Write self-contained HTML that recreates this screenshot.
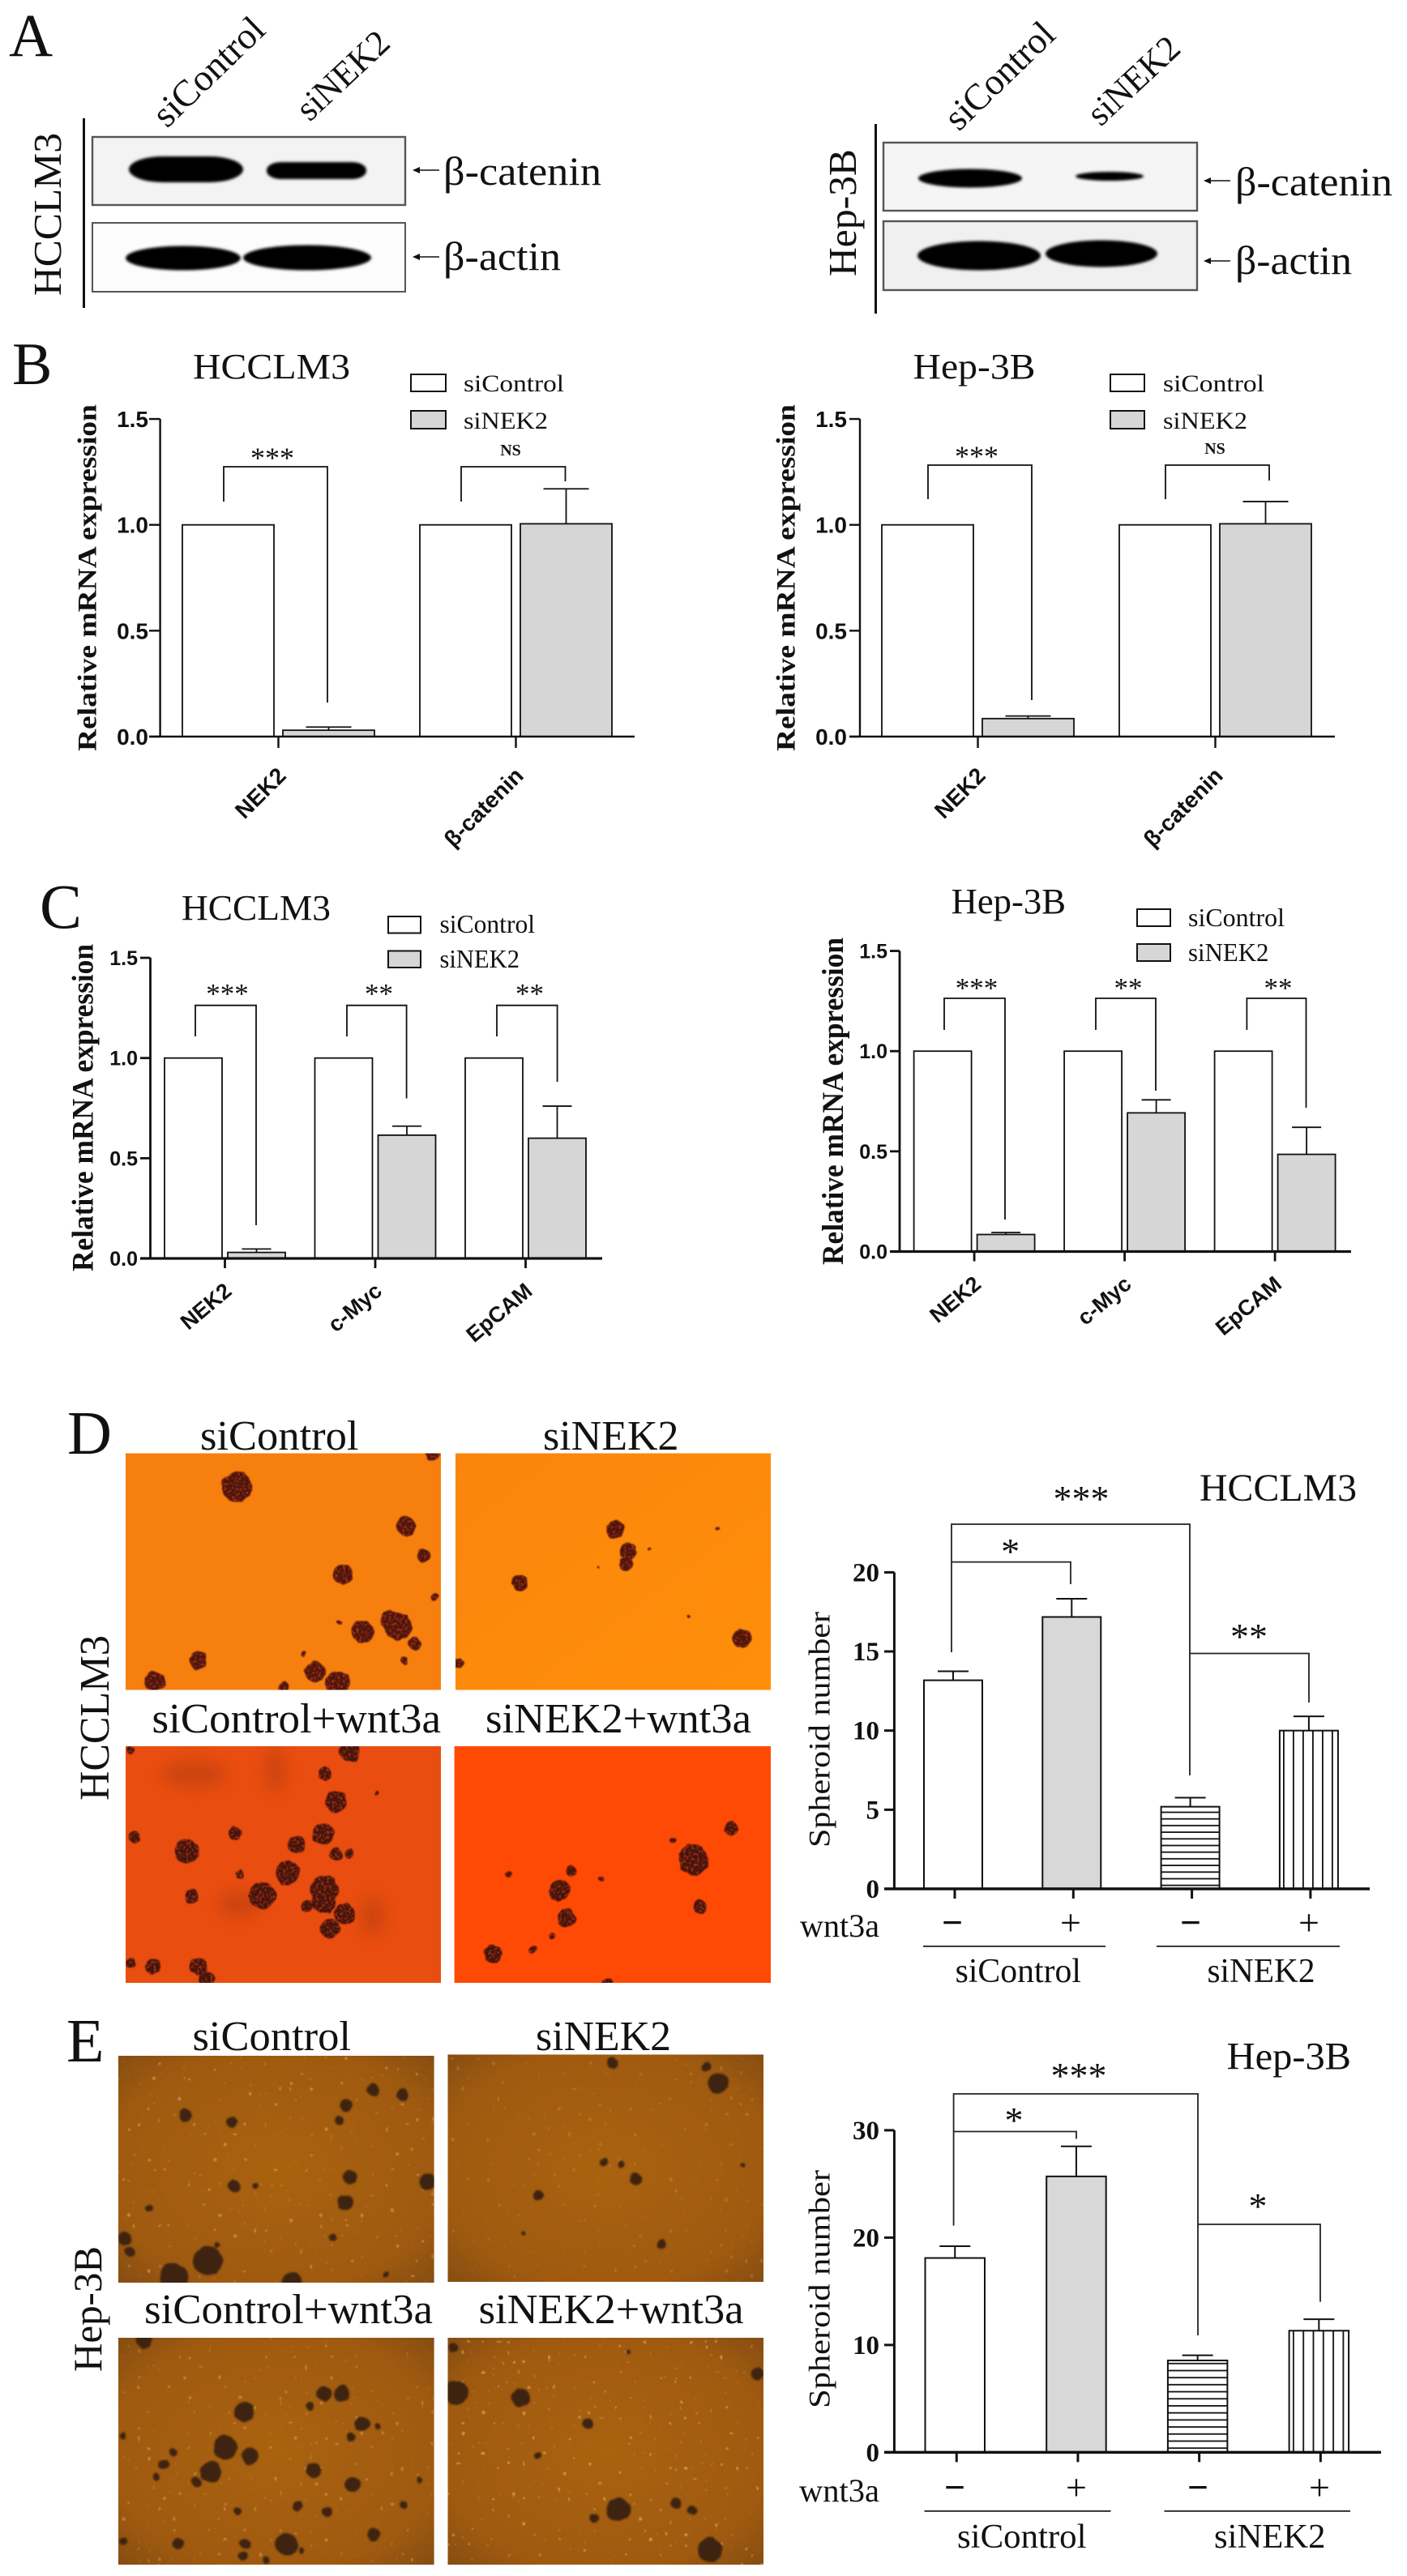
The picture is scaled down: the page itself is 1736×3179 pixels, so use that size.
<!DOCTYPE html>
<html lang="en">
<head>
<meta charset="utf-8">
<title>NEK2 knockdown figure</title>
<style>
html,body{margin:0;padding:0;background:#fff;}
svg{display:block;}
text{fill:#111;font-family:"Liberation Serif",serif;}
.sans{font-family:"Liberation Sans",sans-serif;font-weight:bold;}
.bold{font-weight:bold;}
</style>
</head>
<body>
<svg id="figure" xmlns="http://www.w3.org/2000/svg" width="1736" height="3179" viewBox="0 0 1736 3179">
<defs>
<filter id="soft" x="-10%" y="-40%" width="120%" height="180%"><feGaussianBlur stdDeviation="1.5"/></filter>
<filter id="blotch" x="-30%" y="-30%" width="160%" height="160%"><feGaussianBlur stdDeviation="9"/></filter>
<filter id="lumpy" x="-5%" y="-5%" width="110%" height="110%" color-interpolation-filters="sRGB">
<feTurbulence type="fractalNoise" baseFrequency="0.09" numOctaves="2" seed="4" result="warp"/>
<feDisplacementMap in="SourceGraphic" in2="warp" scale="6" xChannelSelector="R" yChannelSelector="G" result="shape"/>
<feGaussianBlur in="shape" stdDeviation="0.7" result="edge"/>
<feTurbulence type="fractalNoise" baseFrequency="0.3" numOctaves="2" seed="9" result="grain"/>
<feColorMatrix in="grain" type="matrix" values="0 0 0 0 0.72  0 0 0 0 0.22  0 0 0 0 0.08  2.6 0 0 0 -1.2" result="tint"/>
<feComposite in="tint" in2="edge" operator="in" result="mottle"/>
<feMerge><feMergeNode in="edge"/><feMergeNode in="mottle"/></feMerge>
</filter>
<filter id="lumpy-soft" x="-5%" y="-5%" width="110%" height="110%" color-interpolation-filters="sRGB">
<feTurbulence type="fractalNoise" baseFrequency="0.07" numOctaves="2" seed="7" result="warp"/>
<feDisplacementMap in="SourceGraphic" in2="warp" scale="5" xChannelSelector="R" yChannelSelector="G" result="shape"/>
<feGaussianBlur in="shape" stdDeviation="1"/>
</filter>
<filter id="specks" x="0" y="0" width="100%" height="100%" color-interpolation-filters="sRGB">
<feTurbulence type="fractalNoise" baseFrequency="0.16" numOctaves="1" seed="12"/>
<feColorMatrix type="matrix" values="0 0 0 0 0.88  0 0 0 0 0.66  0 0 0 0 0.36  16 0 0 0 -11.2"/>
<feGaussianBlur stdDeviation="0.5"/>
</filter>
<pattern id="hatch-h-d" patternUnits="userSpaceOnUse" width="10" height="8.2" y="2331"><rect width="10" height="8.2" fill="#fff"/><rect y="3" width="10" height="1.8" fill="#111"/></pattern>
<pattern id="hatch-h-e" patternUnits="userSpaceOnUse" width="10" height="8.7" y="3026"><rect width="10" height="8.7" fill="#fff"/><rect y="3" width="10" height="1.8" fill="#111"/></pattern>
<pattern id="hatch-v-d" patternUnits="userSpaceOnUse" width="12" height="10" x="1578"><rect width="12" height="10" fill="#fff"/><rect x="5" width="1.8" height="10" fill="#111"/></pattern>
<pattern id="hatch-v-e" patternUnits="userSpaceOnUse" width="12.3" height="10" x="1590"><rect width="12.3" height="10" fill="#fff"/><rect x="5" width="1.8" height="10" fill="#111"/></pattern>
<radialGradient id="amber1" cx="50%" cy="50%" r="75%"><stop offset="0" stop-color="#a9620f"/><stop offset="0.7" stop-color="#a05a10"/><stop offset="1" stop-color="#7f4a12"/></radialGradient>
<linearGradient id="orange2" x1="0" y1="0" x2="1" y2="1"><stop offset="0" stop-color="#fb850c"/><stop offset="1" stop-color="#ff8f0a"/></linearGradient>
<clipPath id="clip-d1"><rect x="155" y="1793.5" width="389" height="292"/></clipPath>
<clipPath id="clip-d2"><rect x="562" y="1793.5" width="389" height="292"/></clipPath>
<clipPath id="clip-d3"><rect x="155" y="2155" width="389" height="292"/></clipPath>
<clipPath id="clip-d4"><rect x="560.6" y="2155" width="390.4" height="292"/></clipPath>
<clipPath id="clip-e1"><rect x="146" y="2537" width="389.6" height="280"/></clipPath>
<clipPath id="clip-e2"><rect x="552.5" y="2535.5" width="389.5" height="280.5"/></clipPath>
<clipPath id="clip-e3"><rect x="146" y="2885" width="389.6" height="280"/></clipPath>
<clipPath id="clip-e4"><rect x="552.5" y="2885" width="389.5" height="280"/></clipPath>
</defs>

<!-- Panel letters -->
<text x="11" y="69" font-size="75">A</text>
<text x="15" y="474" font-size="74">B</text>
<text x="49" y="1145" font-size="78">C</text>
<text x="83" y="1794" font-size="76">D</text>
<text x="82" y="2544" font-size="76">E</text>

<!-- Panel A left -->
<g>
<rect x="102" y="146" width="3" height="234" fill="#111"/>
<text transform="translate(75,365) rotate(-90)" font-size="49" textLength="201" lengthAdjust="spacingAndGlyphs">HCCLM3</text>
<text transform="translate(206,159) rotate(-44)" font-size="46" textLength="172" lengthAdjust="spacingAndGlyphs">siControl</text>
<text transform="translate(382,151) rotate(-43)" font-size="44" textLength="139" lengthAdjust="spacingAndGlyphs">siNEK2</text>
<rect x="114" y="169" width="386" height="84" fill="#f3f3f3" stroke="#555" stroke-width="2.4"/>
<rect x="159" y="193" width="141" height="32" rx="42" ry="16" fill="#000" filter="url(#soft)"/>
<rect x="329" y="200" width="123" height="21" rx="18" ry="10" fill="#000" filter="url(#soft)"/>
<rect x="114" y="275" width="386" height="85" fill="#fcfcfc" stroke="#555" stroke-width="2"/>
<ellipse cx="226" cy="318.5" rx="71" ry="15" fill="#000" filter="url(#soft)"/>
<ellipse cx="379" cy="318" rx="79" ry="15.5" fill="#000" filter="url(#soft)"/>
<line x1="512" y1="210" x2="542" y2="210" stroke="#111" stroke-width="1.6"/>
<path d="M509 210l9-4v8z" fill="#111"/>
<text x="547" y="228" font-size="50" textLength="195" lengthAdjust="spacingAndGlyphs">β-catenin</text>
<line x1="512" y1="317" x2="542" y2="317" stroke="#111" stroke-width="1.6"/>
<path d="M509 317l9-4v8z" fill="#111"/>
<text x="547" y="333" font-size="50" textLength="145" lengthAdjust="spacingAndGlyphs">β-actin</text>
</g>

<!-- Panel A right -->
<g>
<rect x="1079" y="153" width="3" height="234" fill="#111"/>
<text transform="translate(1056,341) rotate(-90)" font-size="49" textLength="157" lengthAdjust="spacingAndGlyphs">Hep-3B</text>
<text transform="translate(1183,163) rotate(-44)" font-size="46" textLength="169" lengthAdjust="spacingAndGlyphs">siControl</text>
<text transform="translate(1358,157) rotate(-43)" font-size="44" textLength="138" lengthAdjust="spacingAndGlyphs">siNEK2</text>
<rect x="1090" y="176" width="387" height="84" fill="#f5f5f5" stroke="#555" stroke-width="2.4"/>
<ellipse cx="1197" cy="220" rx="64" ry="11.5" fill="#000" filter="url(#soft)"/>
<ellipse cx="1369" cy="217.5" rx="42" ry="5.5" fill="#000" filter="url(#soft)"/>
<rect x="1090" y="273" width="387" height="85" fill="#f0f0f0" stroke="#555" stroke-width="2.4"/>
<ellipse cx="1208" cy="315.5" rx="76" ry="18" fill="#000" filter="url(#soft)"/>
<ellipse cx="1359" cy="313" rx="69" ry="16.5" fill="#000" filter="url(#soft)"/>
<line x1="1488" y1="223" x2="1518" y2="223" stroke="#111" stroke-width="1.6"/>
<path d="M1485 223l9-4v8z" fill="#111"/>
<text x="1524" y="241" font-size="50" textLength="194" lengthAdjust="spacingAndGlyphs">β-catenin</text>
<line x1="1488" y1="322" x2="1518" y2="322" stroke="#111" stroke-width="1.6"/>
<path d="M1485 322l9-4v8z" fill="#111"/>
<text x="1524" y="338" font-size="50" textLength="144" lengthAdjust="spacingAndGlyphs">β-actin</text>
</g>

<!-- Panel B left -->
<g id="chart-b1">
<text x="238" y="467" font-size="44" textLength="194" lengthAdjust="spacingAndGlyphs">HCCLM3</text>
<rect x="507" y="462" width="43" height="21" fill="#fff" stroke="#111" stroke-width="2"/>
<text x="572" y="483" font-size="30" textLength="124" lengthAdjust="spacingAndGlyphs">siControl</text>
<rect x="507" y="507" width="43" height="22" fill="#d6d6d6" stroke="#111" stroke-width="2"/>
<text x="572" y="529" font-size="30" textLength="104" lengthAdjust="spacingAndGlyphs">siNEK2</text>
<text class="bold" transform="translate(118.5,927) rotate(-90)" font-size="33" textLength="428" lengthAdjust="spacingAndGlyphs">Relative mRNA expression</text>
<path d="M276 619V576H404V867" fill="none" stroke="#111" stroke-width="1.8"/>
<text x="336" y="577" font-size="36" text-anchor="middle">***</text>
<path d="M569 619V576H697.5V594" fill="none" stroke="#111" stroke-width="1.8"/>
<text class="bold" x="630" y="562" font-size="20" text-anchor="middle">NS</text>
</g>

<!-- Panel B right -->
<g id="chart-b2">
<text x="1126.5" y="467" font-size="44" textLength="151" lengthAdjust="spacingAndGlyphs">Hep-3B</text>
<rect x="1370" y="462" width="42" height="21" fill="#fff" stroke="#111" stroke-width="2"/>
<text x="1435" y="483" font-size="30" textLength="125" lengthAdjust="spacingAndGlyphs">siControl</text>
<rect x="1370" y="507" width="42" height="22" fill="#d6d6d6" stroke="#111" stroke-width="2"/>
<text x="1435" y="529" font-size="30" textLength="104" lengthAdjust="spacingAndGlyphs">siNEK2</text>
<text class="bold" transform="translate(980.5,927) rotate(-90)" font-size="33" textLength="428" lengthAdjust="spacingAndGlyphs">Relative mRNA expression</text>
<path d="M1145 616V574H1273V864" fill="none" stroke="#111" stroke-width="1.8"/>
<text x="1205" y="575" font-size="36" text-anchor="middle">***</text>
<path d="M1438 616V574H1566V593" fill="none" stroke="#111" stroke-width="1.8"/>
<text class="bold" x="1499" y="560" font-size="20" text-anchor="middle">NS</text>
</g>

<!-- Panel C left -->
<g id="chart-c1">
<text x="224" y="1135" font-size="44" textLength="184" lengthAdjust="spacingAndGlyphs">HCCLM3</text>
<rect x="479" y="1131" width="40" height="20.5" fill="#fff" stroke="#111" stroke-width="2"/>
<text x="542.5" y="1151" font-size="32" textLength="117.5" lengthAdjust="spacingAndGlyphs">siControl</text>
<rect x="479" y="1173.5" width="40" height="20.5" fill="#d6d6d6" stroke="#111" stroke-width="2"/>
<text x="542.5" y="1194" font-size="32" textLength="98.5" lengthAdjust="spacingAndGlyphs">siNEK2</text>
<text class="bold" transform="translate(114.5,1569) rotate(-90)" font-size="37" textLength="404" lengthAdjust="spacingAndGlyphs">Relative mRNA expression</text>
<path d="M241 1279V1240.7H316V1512" fill="none" stroke="#111" stroke-width="1.8"/>
<text x="280.5" y="1238" font-size="35" text-anchor="middle">***</text>
<path d="M428 1279V1240.7H501.6V1355.5" fill="none" stroke="#111" stroke-width="1.8"/>
<text x="467.5" y="1238" font-size="35" text-anchor="middle">**</text>
<path d="M613 1279V1240.7H687.6V1335" fill="none" stroke="#111" stroke-width="1.8"/>
<text x="653.5" y="1238" font-size="35" text-anchor="middle">**</text>
</g>

<!-- Panel C right -->
<g id="chart-c2">
<text x="1173.6" y="1127" font-size="44" textLength="141.4" lengthAdjust="spacingAndGlyphs">Hep-3B</text>
<rect x="1403" y="1122" width="41" height="21" fill="#fff" stroke="#111" stroke-width="2"/>
<text x="1466" y="1143" font-size="32" textLength="119" lengthAdjust="spacingAndGlyphs">siControl</text>
<rect x="1403" y="1165" width="41" height="21" fill="#d6d6d6" stroke="#111" stroke-width="2"/>
<text x="1466" y="1186" font-size="32" textLength="99.5" lengthAdjust="spacingAndGlyphs">siNEK2</text>
<text class="bold" transform="translate(1040,1561) rotate(-90)" font-size="37" textLength="404" lengthAdjust="spacingAndGlyphs">Relative mRNA expression</text>
<path d="M1165 1271V1232H1240V1505" fill="none" stroke="#111" stroke-width="1.8"/>
<text x="1205" y="1231" font-size="35" text-anchor="middle">***</text>
<path d="M1352 1271V1232H1426V1346" fill="none" stroke="#111" stroke-width="1.8"/>
<text x="1392" y="1231" font-size="35" text-anchor="middle">**</text>
<path d="M1538.4 1271V1232H1611.5V1367" fill="none" stroke="#111" stroke-width="1.8"/>
<text x="1577" y="1231" font-size="35" text-anchor="middle">**</text>
</g>

<!-- Panel D micrographs -->
<g>
<text transform="translate(134,2222) rotate(-90)" font-size="52" textLength="204" lengthAdjust="spacingAndGlyphs">HCCLM3</text>
<text x="247" y="1789" font-size="52" textLength="195.5" lengthAdjust="spacingAndGlyphs">siControl</text>
<text x="670" y="1789" font-size="52" textLength="167.5" lengthAdjust="spacingAndGlyphs">siNEK2</text>
<text x="187.5" y="2138" font-size="52" textLength="356.5" lengthAdjust="spacingAndGlyphs">siControl+wnt3a</text>
<text x="599" y="2138" font-size="52" textLength="328" lengthAdjust="spacingAndGlyphs">siNEK2+wnt3a</text>
<rect x="155" y="1793.5" width="389" height="292" fill="#f67f0e"/>
<rect x="562" y="1793.5" width="389" height="292" fill="url(#orange2)"/>
<rect x="155" y="2155" width="389" height="292" fill="#e94d10"/>
<g clip-path="url(#clip-d3)" fill="#7a2a10" opacity="0.26" filter="url(#blotch)">
<ellipse cx="240" cy="2190" rx="40" ry="16"/>
<ellipse cx="340" cy="2185" rx="12" ry="28"/>
<ellipse cx="295" cy="2350" rx="26" ry="16"/>
<ellipse cx="460" cy="2365" rx="14" ry="24"/>
</g>
<rect x="560.6" y="2155" width="390.4" height="292" fill="#ff4a06"/>
<g id="spheroids-d1" clip-path="url(#clip-d1)"><g id="spheroids-d1-inner" fill="#4d150c" filter="url(#lumpy)"></g></g>
<g id="spheroids-d2" clip-path="url(#clip-d2)"><g id="spheroids-d2-inner" fill="#4d150c" filter="url(#lumpy)"></g></g>
<g id="spheroids-d3" clip-path="url(#clip-d3)"><g id="spheroids-d3-inner" fill="#44140c" filter="url(#lumpy)"></g></g>
<g id="spheroids-d4" clip-path="url(#clip-d4)"><g id="spheroids-d4-inner" fill="#44140c" filter="url(#lumpy)"></g></g>
</g>

<!-- Panel D chart -->
<g id="chart-d">
<text x="1480" y="1852" font-size="48" textLength="194" lengthAdjust="spacingAndGlyphs">HCCLM3</text>
<text transform="translate(1023.5,2280) rotate(-90)" font-size="37" textLength="291" lengthAdjust="spacingAndGlyphs">Spheroid number</text>
<path d="M1174 2039V1881H1468V2191" fill="none" stroke="#222" stroke-width="1.8"/>
<path d="M1174 1927.6H1321V1955" fill="none" stroke="#222" stroke-width="1.8"/>
<path d="M1468 2040.5H1615V2101" fill="none" stroke="#222" stroke-width="1.8"/>
<text x="1334" y="1865" font-size="46" text-anchor="middle">***</text>
<text x="1246.6" y="1930" font-size="46" text-anchor="middle">*</text>
<text x="1541" y="2035" font-size="46" text-anchor="middle">**</text>
<text x="987" y="2390" font-size="40" textLength="98" lengthAdjust="spacingAndGlyphs">wnt3a</text>
<text class="bold" x="1175" y="2388" font-size="46" text-anchor="middle">−</text>
<text x="1321" y="2388" font-size="46" text-anchor="middle">+</text>
<text class="bold" x="1469" y="2388" font-size="46" text-anchor="middle">−</text>
<text x="1615" y="2388" font-size="46" text-anchor="middle">+</text>
<rect x="1139" y="2401" width="225" height="1.8" fill="#222"/>
<rect x="1427" y="2401" width="226" height="1.8" fill="#222"/>
<text x="1178.6" y="2446" font-size="42" textLength="155.4" lengthAdjust="spacingAndGlyphs">siControl</text>
<text x="1489.5" y="2446" font-size="42" textLength="133" lengthAdjust="spacingAndGlyphs">siNEK2</text>
</g>

<!-- Panel E micrographs -->
<g>
<text transform="translate(125,2927) rotate(-90)" font-size="50" textLength="155" lengthAdjust="spacingAndGlyphs">Hep-3B</text>
<text x="237.5" y="2530" font-size="52" textLength="195.5" lengthAdjust="spacingAndGlyphs">siControl</text>
<text x="661" y="2530" font-size="52" textLength="167" lengthAdjust="spacingAndGlyphs">siNEK2</text>
<text x="178" y="2867" font-size="52" textLength="356" lengthAdjust="spacingAndGlyphs">siControl+wnt3a</text>
<text x="590.6" y="2867" font-size="52" textLength="327" lengthAdjust="spacingAndGlyphs">siNEK2+wnt3a</text>
<rect x="146" y="2537" width="389.6" height="280" fill="url(#amber1)"/>
<rect x="552.5" y="2535.5" width="389.5" height="280.5" fill="url(#amber1)"/>
<rect x="146" y="2885" width="389.6" height="280" fill="url(#amber1)"/>
<rect x="552.5" y="2885" width="389.5" height="280" fill="url(#amber1)"/>
<rect x="146" y="2537" width="389.6" height="280" fill="#000" filter="url(#specks)" opacity="0.55"/>
<rect x="552.5" y="2535.5" width="389.5" height="280.5" fill="#000" filter="url(#specks)" opacity="0.3"/>
<rect x="146" y="2885" width="389.6" height="280" fill="#000" filter="url(#specks)" opacity="0.5"/>
<rect x="552.5" y="2885" width="389.5" height="280" fill="#000" filter="url(#specks)" opacity="0.7"/>
<g id="spheroids-e1" clip-path="url(#clip-e1)"><g id="spheroids-e1-inner" fill="#3e2410" filter="url(#lumpy-soft)"></g></g>
<g id="spheroids-e2" clip-path="url(#clip-e2)"><g id="spheroids-e2-inner" fill="#3e2410" filter="url(#lumpy-soft)"></g></g>
<g id="spheroids-e3" clip-path="url(#clip-e3)"><g id="spheroids-e3-inner" fill="#3e2410" filter="url(#lumpy-soft)"></g></g>
<g id="spheroids-e4" clip-path="url(#clip-e4)"><g id="spheroids-e4-inner" fill="#3e2410" filter="url(#lumpy-soft)"></g></g>
</g>

<!-- Panel E chart -->
<g id="chart-e">
<text x="1513.6" y="2553.6" font-size="48" textLength="153.4" lengthAdjust="spacingAndGlyphs">Hep-3B</text>
<text transform="translate(1023.5,2972) rotate(-90)" font-size="37" textLength="294" lengthAdjust="spacingAndGlyphs">Spheroid number</text>
<path d="M1176.6 2746.6V2584H1478V2882" fill="none" stroke="#222" stroke-width="1.8"/>
<path d="M1176.6 2630.5H1328V2639.5" fill="none" stroke="#222" stroke-width="1.8"/>
<path d="M1478 2745H1629V2840.6" fill="none" stroke="#222" stroke-width="1.8"/>
<text x="1331" y="2577" font-size="46" text-anchor="middle">***</text>
<text x="1251" y="2632" font-size="46" text-anchor="middle">*</text>
<text x="1552" y="2738" font-size="46" text-anchor="middle">*</text>
<text x="986" y="3087" font-size="40" textLength="99" lengthAdjust="spacingAndGlyphs">wnt3a</text>
<text class="bold" x="1178" y="3085" font-size="46" text-anchor="middle">−</text>
<text x="1328" y="3085" font-size="46" text-anchor="middle">+</text>
<text class="bold" x="1478" y="3085" font-size="46" text-anchor="middle">−</text>
<text x="1628" y="3085" font-size="46" text-anchor="middle">+</text>
<rect x="1140.5" y="3098" width="230" height="1.8" fill="#222"/>
<rect x="1436.5" y="3098" width="229.5" height="1.8" fill="#222"/>
<text x="1181" y="3144" font-size="42" textLength="159.5" lengthAdjust="spacingAndGlyphs">siControl</text>
<text x="1498" y="3144" font-size="42" textLength="137.5" lengthAdjust="spacingAndGlyphs">siNEK2</text>
</g>
</svg>

<script>
// ---- chart data ----
const b1Categories = ['NEK2', 'β-catenin'];
const b1Control = [1, 1];
const b1Knockdown = [0.03, 1.005];
const b1KnockdownUpper = [0.045, 1.17];

const b2Categories = ['NEK2', 'β-catenin'];
const b2Control = [1, 1];
const b2Knockdown = [0.085, 1.005];
const b2KnockdownUpper = [0.097, 1.11];

const c1Categories = ['NEK2', 'c-Myc', 'EpCAM'];
const c1Control = [1, 1, 1];
const c1Knockdown = [0.03, 0.615, 0.6];
const c1KnockdownUpper = [0.047, 0.66, 0.76];

const c2Categories = ['NEK2', 'c-Myc', 'EpCAM'];
const c2Control = [1, 1, 1];
const c2Knockdown = [0.085, 0.692, 0.485];
const c2KnockdownUpper = [0.095, 0.757, 0.62];

const mrnaTicks = [0, 0.5, 1, 1.5];
const mrnaTickLabels = ['0.0', '0.5', '1.0', '1.5'];

const dValues = [13.18, 17.18, 5.19, 10];
const dUpper = [13.75, 18.33, 5.76, 10.9];
const dTicks = [0, 5, 10, 15, 20];
const dTickLabels = ['0', '5', '10', '15', '20'];

const eValues = [18.1, 25.7, 8.56, 11.33];
const eUpper = [19.2, 28.5, 9.04, 12.4];
const eTicks = [0, 10, 20, 30];
const eTickLabels = ['0', '10', '20', '30'];

// ---- spheroid micrograph specks, in reference-crop units [x, y, r] ----
const spheroidsD1 = [[468,272,30],[801,369,19],[836,441,13],[677,488,20],[858,546,7],[716,631,22],[786,617,27],[770,600,18],[818,660,13],[392,702,17],[622,730,20],[305,755,20],[666,760,25],[561,768,10],[598,685,5],[799,703,8],[855,190,14],[669,608,4]];
const spheroidsD2 = [[1214,378,18],[1240,432,17],[1236,462,14],[1027,510,16],[1465,647,19],[905,708,9],[1416,375,4],[1360,593,3],[1282,425,3],[1181,470,2]];
const spheroidsD3 = [[690,928,20],[641,983,13],[664,1052,21],[744,1031,5],[265,1141,11],[463,1130,13],[638,1132,21],[585,1159,17],[369,1175,24],[663,1183,13],[689,1181,8],[567,1229,23],[473,1233,8],[517,1285,27],[640,1272,28],[640,1300,24],[378,1288,14],[607,1312,11],[681,1332,20],[651,1367,19],[258,1452,9],[302,1460,15],[392,1463,18],[408,1493,15],[258,925,8]];
const spheroidsD4 = [[1128,1224,11],[1004,1231,6],[1105,1272,21],[1119,1340,18],[1369,1196,30],[1444,1120,13],[1382,1312,13],[973,1431,18],[1090,1386,6],[1052,1420,8],[1187,1243,6],[1200,1500,10],[1330,1150,6]];
const spheroidsE1 = [[737,240,12],[794,253,12],[683,283,12],[670,325,9],[366,310,12],[458,330,10],[691,480,14],[462,503,12],[504,503,6],[681,549,15],[845,492,16],[294,564,7],[657,645,8],[246,648,13],[256,682,10],[410,708,29],[343,752,28],[576,768,20],[428,665,6],[762,747,6]];
const spheroidsE2 = [[1209,168,11],[1394,178,9],[1418,224,20],[1192,440,8],[1226,443,7],[1254,485,12],[1063,530,10],[1306,663,9],[1034,633,4],[1466,448,5]];
const spheroidsE3 = [[285,925,16],[640,1070,15],[675,1070,16],[482,1120,20],[612,1106,8],[715,1153,15],[745,1160,6],[693,1189,9],[445,1218,24],[494,1241,17],[342,1231,8],[323,1264,10],[416,1284,21],[308,1296,7],[388,1312,10],[619,1281,15],[696,1320,15],[587,1376,10],[645,1393,10],[469,1391,8],[797,1376,8],[738,1455,13],[566,1482,22],[484,1480,10],[479,1515,10],[351,1481,11],[526,1525,7],[242,1475,8],[595,1498,6],[243,1186,6],[828,1305,6]];
const spheroidsE4 = [[900,1067,24],[1027,1082,18],[1495,1016,12],[1160,1153,11],[1062,1240,7],[1221,1388,23],[1335,1370,11],[1367,1390,9],[1173,1410,9],[1402,1498,25],[1241,958,5],[895,945,9]];

const SVGNS = 'http://www.w3.org/2000/svg';
function make(parent, tag, attrs, text) {
  const el = document.createElementNS(SVGNS, tag);
  for (const k in attrs) el.setAttribute(k, attrs[k]);
  if (text !== undefined) el.textContent = text;
  parent.appendChild(el);
  return el;
}

function drawYAxis(g, yOf, axisX, tickLeft, xRight, y0, ticks, labels, o) {
  const spine = make(g, 'line', {x1: axisX, x2: axisX, y1: yOf(ticks[ticks.length - 1]), y2: y0, stroke: '#111', 'stroke-width': o.axisW});
  
  
  const base = make(g, 'line', {x1: tickLeft, x2: xRight, y1: y0, y2: y0, stroke: '#111', 'stroke-width': o.baseW});
  
  
  ticks.forEach((t, i) => {
    const tk = make(g, 'line', {x1: tickLeft, x2: axisX, y1: yOf(t), y2: yOf(t), stroke: '#111', 'stroke-width': o.axisW});
    
    
    const lb = make(g, 'text', {x: o.labelX, y: yOf(t) + o.labelDy, 'font-size': o.labelSize, 'text-anchor': 'end', class: o.labelClass}, labels[i]);
    
    
  });
}

function drawBar(g, x, w, top, y0, fill, sw) {
  const r = make(g, 'rect', {x: x, y: top, width: w, height: y0 - top, fill: fill, stroke: '#111', 'stroke-width': sw});
  
  
}

function drawError(g, cx, fromY, toY, half, sw) {
  const stem = make(g, 'line', {x1: cx, x2: cx, y1: fromY, y2: toY, stroke: '#111', 'stroke-width': sw});
  
  
  const cap = make(g, 'line', {x1: cx - half, x2: cx + half, y1: toY, y2: toY, stroke: '#111', 'stroke-width': sw});
  
  
}

function groupedChart(id, c, categories, control, knockdown, upper) {
  const g = document.getElementById(id);
  const yOf = v => c.y0 - v * c.unit;
  categories.forEach((name, i) => {
    const x1 = c.x0 + i * c.step;
    const x2 = x1 + c.sub;
    drawBar(g, x1, c.w, yOf(control[i]), c.y0, '#fff', c.barW);
    drawError(g, x2 + c.w / 2, yOf(knockdown[i]), yOf(upper[i]), c.cap, c.barW);
    drawBar(g, x2, c.w, yOf(knockdown[i]), c.y0, '#d6d6d6', c.barW);
    const tx = x1 + (c.w + c.sub) / 2;
    const tk = make(g, 'line', {x1: tx, x2: tx, y1: c.y0, y2: c.y0 + c.tickLen, stroke: '#111', 'stroke-width': c.axisW});
    
    
    const lb = make(g, 'text', {transform: 'translate(' + (tx + c.ldx) + ',' + (c.y0 + c.ldy) + ') rotate(' + c.angle + ')', 'font-size': c.xSize, 'text-anchor': 'end', class: 'sans'}, name);
    
    
  });
  drawYAxis(g, yOf, c.axisX, c.tickLeft, c.xRight, c.y0, mrnaTicks, mrnaTickLabels, {
    axisW: c.axisW, baseW: c.baseW, labelX: c.labelX, labelDy: c.labelDy, labelSize: c.labelSize, labelClass: 'sans'
  });
}

function spheroidChart(id, c, values, upper, ticks, labels) {
  const g = document.getElementById(id);
  const yOf = v => c.y0 - v * c.unit;
  values.forEach((v, i) => {
    const x = c.x0 + i * c.step;
    const cx = x + c.w / 2;
    drawError(g, cx, yOf(v), yOf(upper[i]), 19, 2);
    drawBar(g, x, c.w, yOf(v), c.y0, c.fills[i], 2);
    const tk = make(g, 'line', {x1: cx + 2, x2: cx + 2, y1: c.y0, y2: c.y0 + 12, stroke: '#111', 'stroke-width': 3});
    
    
  });
  drawYAxis(g, yOf, c.axisX, c.tickLeft, c.xRight, c.y0, ticks, labels, {
    axisW: 3, baseW: 3.5, labelX: 1085, labelDy: 11, labelSize: 33, labelClass: 'bold'
  });
}

function spheroids(id, list, ox, oy, sx, sy) {
  const g = document.getElementById(id);
  list.forEach(s => {
    const el = make(g, 'circle', {cx: ox + s[0] * sx, cy: oy + s[1] * sy, r: s[2] * sx});
    
    
  });
}

const bLayout = {y0: 909, unit: 261.3, w: 113, sub: 124, step: 293, cap: 28, barW: 1.8, axisW: 2.4, baseW: 2.6, tickLen: 14, ldx: 11, ldy: 50, angle: -45, xSize: 28, labelDy: 10, labelSize: 28};
groupedChart('chart-b1', Object.assign({}, bLayout, {x0: 225, axisX: 197.6, tickLeft: 184, xRight: 783, labelX: 183}), b1Categories, b1Control, b1Knockdown, b1KnockdownUpper);
groupedChart('chart-b2', Object.assign({}, bLayout, {x0: 1088, axisX: 1061, tickLeft: 1048, xRight: 1647, labelX: 1045}), b2Categories, b2Control, b2Knockdown, b2KnockdownUpper);

const cLayout = {unit: 247.3, w: 71, sub: 78, step: 185.5, cap: 18, barW: 1.8, axisW: 2.8, baseW: 3.2, tickLen: 12, ldx: 10, ldy: 43, angle: -40, xSize: 27, labelDy: 9, labelSize: 25};
groupedChart('chart-c1', Object.assign({}, cLayout, {y0: 1553, x0: 203, axisX: 185.5, tickLeft: 173, xRight: 743, labelX: 170}), c1Categories, c1Control, c1Knockdown, c1KnockdownUpper);
groupedChart('chart-c2', Object.assign({}, cLayout, {y0: 1544.5, x0: 1127.6, axisX: 1110, tickLeft: 1098, xRight: 1667, labelX: 1095}), c2Categories, c2Control, c2Knockdown, c2KnockdownUpper);

spheroidChart('chart-d', {y0: 2331, unit: 19.53, x0: 1140, w: 72, step: 146.3, axisX: 1103.4, tickLeft: 1091, xRight: 1690,
  fills: ['#fff', '#d8d8d8', 'url(#hatch-h-d)', 'url(#hatch-v-d)']}, dValues, dUpper, dTicks, dTickLabels);
spheroidChart('chart-e', {y0: 3026.4, unit: 13.25, x0: 1141.5, w: 73.5, step: 149.7, axisX: 1103.4, tickLeft: 1091, xRight: 1704,
  fills: ['#fff', '#d8d8d8', 'url(#hatch-h-e)', 'url(#hatch-v-e)']}, eValues, eUpper, eTicks, eTickLabels);

spheroids('spheroids-d1-inner', spheroidsD1, 0, 1700, 0.625, 0.4974);
spheroids('spheroids-d2-inner', spheroidsD2, 0, 1700, 0.625, 0.4974);
spheroids('spheroids-d3-inner', spheroidsD3, 0, 1700, 0.625, 0.4974);
spheroids('spheroids-d4-inner', spheroidsD4, 0, 1700, 0.625, 0.4974);
spheroids('spheroids-e1-inner', spheroidsE1, 0, 2470, 0.625, 0.452);
spheroids('spheroids-e2-inner', spheroidsE2, 0, 2470, 0.625, 0.452);
spheroids('spheroids-e3-inner', spheroidsE3, 0, 2470, 0.625, 0.452);
spheroids('spheroids-e4-inner', spheroidsE4, 0, 2470, 0.625, 0.452);
</script>
</body>
</html>
